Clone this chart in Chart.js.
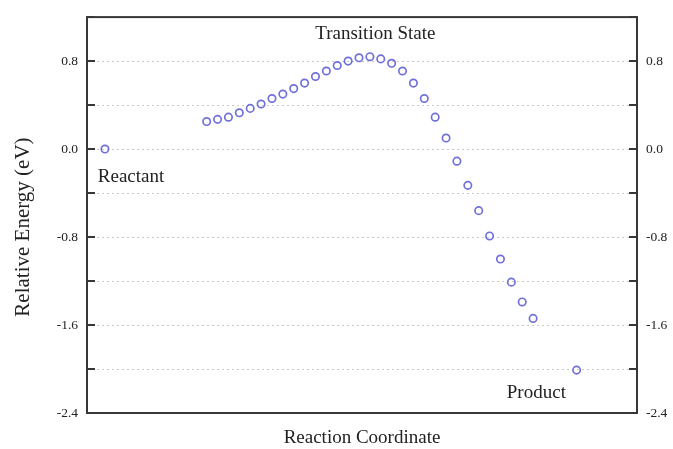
<!DOCTYPE html>
<html><head><meta charset="utf-8">
<script src="https://cdn.jsdelivr.net/npm/chart.js@4"></script>
<style>html,body{margin:0;padding:0;background:#fff}#wrap{width:673px;height:449px;position:relative}</style>
</head><body><div id="wrap"><canvas id="c"></canvas></div>
<script>
// Reaction coordinate positions (reactant, 31 path images, product)
const pathX = [1.65, 11, 12, 13, 14, 15, 16, 17, 18, 19, 20, 21, 22, 23, 24, 25, 26, 27, 28, 29, 30,
  31, 32, 33, 34, 35, 36, 37, 38, 39, 40, 41, 45.0];
// Relative energies (eV)
const energies = [0.00, 0.25, 0.27, 0.29, 0.33, 0.37, 0.41, 0.46, 0.50, 0.55, 0.60, 0.66, 0.71, 0.76, 0.80, 0.83,
  0.84, 0.82, 0.78, 0.71, 0.60, 0.46, 0.29, 0.10, -0.11, -0.33, -0.56, -0.79, -1.00, -1.21, -1.39, -1.54, -2.01];
// Y ticks (every 0.4) and labelled ticks
const yTickValues = [-2.4, -2.0, -1.6, -1.2, -0.8, -0.4, 0.0, 0.4, 0.8, 1.2];
const yLabelValues = [-2.4, -1.6, -0.8, 0.0, 0.8];
const yLabelTexts = ['-2.4', '-1.6', '-0.8', '0.0', '0.8'];
// Annotations (text + data position)
const noteTexts = ['Reactant', 'Transition State', 'Product'];
const noteX = [4.05, 26.5, 41.3];
const noteY = [-0.25, 1.05, -2.22];
const xTitle = 'Reaction Coordinate';
const yTitle = 'Relative Energy (eV)';

const SERIF = '"Liberation Serif", "Times New Roman", serif';
const xRange = [0, 50.55];
const yRange = [-2.4, 1.2];

function tickLabel(v) {
  for (let i = 0; i < yLabelValues.length; i++) {
    if (Math.abs(yLabelValues[i] - v) < 1e-6) return yLabelTexts[i];
  }
  return '';
}
function setTicks(scale) { scale.ticks = yTickValues.map(v => ({ value: v })); }

const framePlugin = {
  id: 'frame',
  afterDraw(chart) {
    const { ctx, chartArea: a, scales } = chart;
    const y = scales.y, x = scales.x;
    ctx.save();
    ctx.strokeStyle = '#383838';
    ctx.lineWidth = 2;
    ctx.strokeRect(a.left, a.top, a.right - a.left, a.bottom - a.top);
    ctx.beginPath();
    yTickValues.forEach(v => {
      const py = Math.round(y.getPixelForValue(v));
      ctx.moveTo(a.left, py); ctx.lineTo(a.left + 8, py);
      ctx.moveTo(a.right, py); ctx.lineTo(a.right - 8, py);
    });
    ctx.stroke();
    ctx.fillStyle = '#222';
    ctx.font = '19px ' + SERIF;
    ctx.textAlign = 'center';
    ctx.textBaseline = 'middle';
    noteTexts.forEach((t, i) => {
      ctx.fillText(t, x.getPixelForValue(noteX[i]), y.getPixelForValue(noteY[i]));
    });
    // y axis title
    ctx.font = '21px ' + SERIF;
    ctx.translate(23, (a.top + a.bottom) / 2 + 12);
    ctx.rotate(-Math.PI / 2);
    ctx.fillText(yTitle, 0, 0);
    ctx.restore();
  }
};

new Chart(document.getElementById('c'), {
  type: 'scatter',
  data: {
    datasets: [{
      data: pathX.map((v, i) => ({ x: v, y: energies[i] })),
      showLine: false,
      pointStyle: 'circle',
      pointRadius: 3.7,
      pointBorderWidth: 1.7,
      pointBorderColor: '#7070da',
      pointBackgroundColor: 'rgba(255,255,255,0)'
    }]
  },
  plugins: [framePlugin],
  options: {
    responsive: true,
    maintainAspectRatio: false,
    devicePixelRatio: 1,
    animation: false,
    events: [],
    layout: { padding: { top: 13, left: 0, right: 0, bottom: 0 } },
    plugins: { legend: { display: false }, tooltip: { enabled: false } },
    scales: {
      x: {
        type: 'linear', min: xRange[0], max: xRange[1],
        grid: { display: false },
        border: { display: false },
        ticks: { display: false },
        title: { display: true, text: xTitle, color: '#222',
          font: { family: SERIF, size: 19 }, padding: { top: 0, bottom: 0 } },
        afterFit(s) { s.height = 36; }
      },
      y: {
        type: 'linear', position: 'left', min: yRange[0], max: yRange[1],
        afterBuildTicks: setTicks,
        grid: { color: '#c8c8c8', lineWidth: 1, drawTicks: false },
        border: { display: false, dash: [2, 3] },
        ticks: { callback: tickLabel, padding: 9, color: '#222', font: { family: SERIF, size: 13.5 } },
        afterFit(s) { s.width = 87; }
      },
      y2: {
        type: 'linear', position: 'right', min: yRange[0], max: yRange[1],
        afterBuildTicks: setTicks,
        grid: { display: false, drawTicks: false },
        border: { display: false },
        ticks: { callback: tickLabel, padding: 9, color: '#222', font: { family: SERIF, size: 13.5 } },
        afterFit(s) { s.width = 36; }
      }
    }
  }
});
</script></body></html>
